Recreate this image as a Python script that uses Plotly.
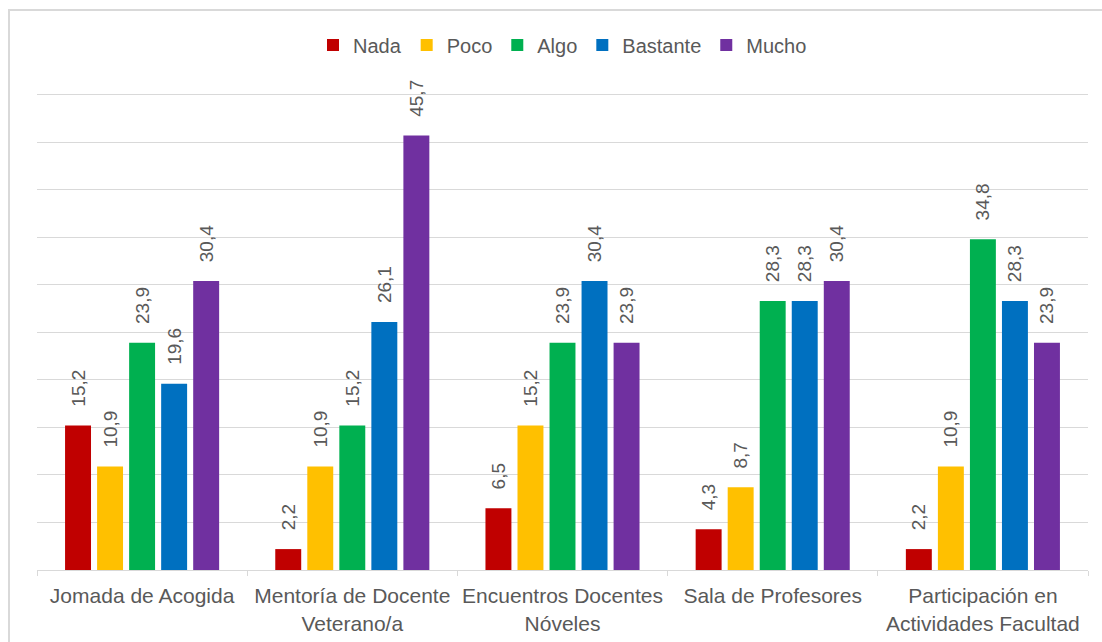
import plotly.graph_objects as go

categories = ["Jomada de Acogida", "Mentoría de Docente<br>Veterano/a",
              "Encuentros Docentes<br>Nóveles", "Sala de Profesores",
              "Participación en<br>Actividades Facultad"]
series_names = ["Nada", "Poco", "Algo", "Bastante", "Mucho"]
nada = [15.2, 2.2, 6.5, 4.3, 2.2]
poco = [10.9, 10.9, 15.2, 8.7, 10.9]
algo = [23.9, 15.2, 23.9, 28.3, 34.8]
bastante = [19.6, 26.1, 30.4, 28.3, 28.3]
mucho = [30.4, 45.7, 23.9, 30.4, 23.9]
colors = ["#C00000", "#FFC000", "#00B050", "#0070C0", "#7030A0"]

FONT = "Liberation Sans, Arial, sans-serif"
TXT = "#595959"
PAD = "\u00a0\u00a0\u00a0"

fig = go.Figure()
for name, vals, col in zip(series_names, [nada, poco, algo, bastante, mucho], colors):
    fig.add_trace(go.Bar(
        name=name, x=categories, y=vals, marker_color=col,
        marker_line_width=0,
        text=[PAD + f"{v:.1f}".replace(".", ",") for v in vals],
        textposition="outside", textangle=-90, constraintext="none",
        textfont=dict(family=FONT, size=19, color=TXT),
        cliponaxis=False,
    ))

W, H = 1102, 642
ml, mr, mt, mb = 37, 14, 90, 72
ph = H - mt - mb
fig.update_layout(
    width=W, height=H,
    margin=dict(l=ml, r=mr, t=mt, b=mb, autoexpand=False),
    barmode="group", bargap=0.238, bargroupgap=0.19,
    plot_bgcolor="white", paper_bgcolor="white",
    font=dict(family=FONT, color=TXT),
    legend=dict(orientation="h", x=0.5, xanchor="center", y=1.0 + (mt - 45) / ph,
                yanchor="middle", font=dict(family=FONT, size=20, color=TXT),
                itemwidth=30, traceorder="normal"),
    xaxis=dict(showline=True, linecolor="#d9d9d9", linewidth=1,
               ticks="outside", tickson="boundaries", ticklen=5, tickcolor="#d9d9d9",
               ticklabelstandoff=7, tickangle=0, automargin=False,
               tickfont=dict(family=FONT, size=21, color=TXT), showgrid=False),
    yaxis=dict(range=[0, 50.5], dtick=5, showgrid=True, gridcolor="#d9d9d9",
               showticklabels=False, zeroline=False, ticks="", automargin=False),
)
pw = W - ml - mr
fig.add_shape(type="rect", xref="paper", yref="paper",
              x0=(9 - ml) / pw, x1=(1110 - ml) / pw,
              y0=(H - 650 - mb) / ph, y1=(H - 10 - mb) / ph,
              line=dict(color="#d9d9d9", width=2), fillcolor="rgba(0,0,0,0)", layer="below")
fig.write_html("out.html")
